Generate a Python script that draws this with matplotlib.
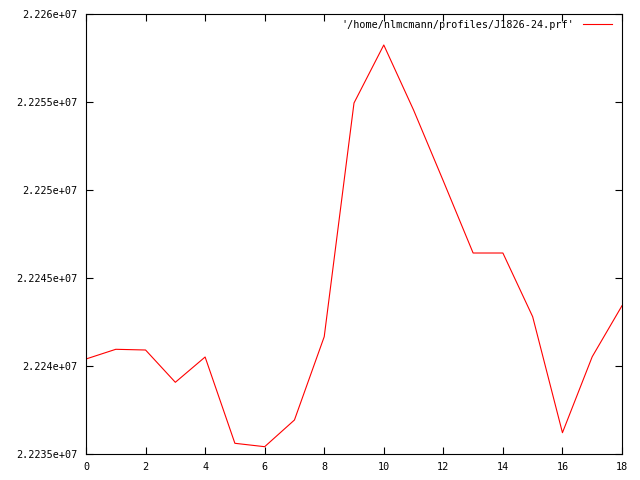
import matplotlib
matplotlib.use("Agg")
import matplotlib.pyplot as plt
import matplotlib.ticker as ticker

x = list(range(19))
y = [22240398, 22240949, 22240909, 22239074, 22240511, 22235608, 22235415,
     22236932, 22241665, 22254943, 22258239, 22254545, 22250511, 22246420,
     22246420, 22242801, 22236210, 22240528, 22243426]
label = "'/home/nlmcmann/profiles/J1826-24.prf'"

plt.rcParams['font.family'] = 'DejaVu Sans Mono'

fig = plt.figure(figsize=(6.4, 4.8), dpi=100)
ax = fig.add_axes([86 / 640, 26 / 480, 536 / 640, 440 / 480])

ax.plot(x, y, color="#ff0000", linewidth=0.8, label=label)

ax.set_xlim(0, 18)
ax.set_ylim(2.2235e7, 2.226e7)
ax.xaxis.set_major_locator(ticker.MultipleLocator(2))
ax.yaxis.set_major_locator(ticker.MultipleLocator(5000))
ax.yaxis.set_major_formatter(ticker.FuncFormatter(lambda v, p: "%g" % v))
ax.tick_params(direction='in', length=5, width=0.8, top=True, right=True,
               labelsize=7.3, pad=6, colors='black')
for s in ax.spines.values():
    s.set_linewidth(0.8)

ax.legend(loc="upper right", frameon=False, markerfirst=False,
          prop={'size': 7.3}, handlelength=2.8, handletextpad=0.9,
          borderaxespad=0.6, bbox_to_anchor=(1.0, 1.01))

fig.savefig("out.png", dpi=100)
